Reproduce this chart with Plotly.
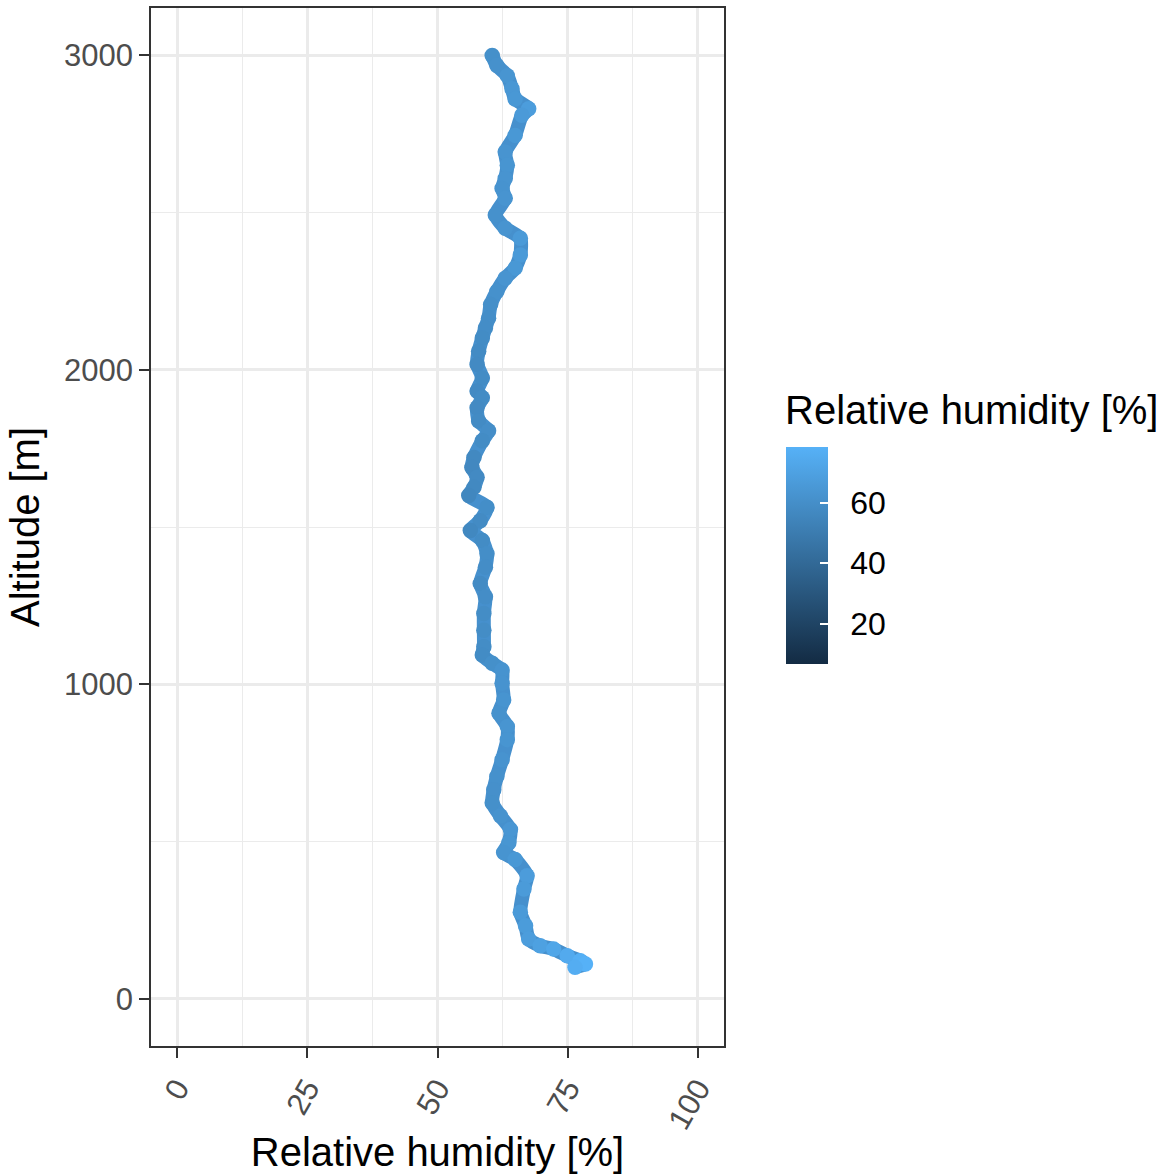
import plotly.graph_objects as go

# Data (top of sounding to bottom)
rh = [60.5, 61.4, 63.4, 64.3, 64.9, 67.5, 66.2, 64.9, 63.0, 63.4, 63.0, 62.4, 63.0, 61.1,
      63.0, 65.9, 65.9, 64.9, 63.0, 61.4, 60.2, 59.8, 59.2, 58.6, 57.9, 57.6, 58.6, 57.6,
      58.6, 57.6, 57.9, 59.8, 58.6, 57.0, 56.6, 57.6, 57.0, 56.0, 59.5, 58.2, 56.3, 58.6,
      59.5, 59.2, 58.2, 59.2, 58.9, 58.9, 58.9, 58.6, 60.5, 62.4, 62.4, 62.7, 61.8, 63.4,
      63.4, 62.4, 61.4, 60.8, 60.5, 62.1, 64.0, 63.7, 62.7, 64.9, 67.2, 66.6, 65.9, 66.9,
      67.5, 69.7, 72.3, 74.9, 77.4, 78.4, 76.4]
altitude = [2999, 2967, 2935, 2893, 2861, 2830, 2809, 2745, 2692, 2650, 2608, 2576, 2545, 2492,
            2450, 2418, 2365, 2323, 2291, 2249, 2207, 2164, 2133, 2101, 2059, 2017, 1974, 1932,
            1911, 1879, 1837, 1806, 1774, 1721, 1689, 1658, 1626, 1600, 1563, 1520, 1489, 1457,
            1415, 1372, 1320, 1278, 1225, 1172, 1119, 1093, 1067, 1045, 1003, 950, 908, 866,
            824, 760, 707, 665, 623, 581, 538, 496, 465, 443, 391, 349, 275, 232,
            190, 169, 158, 137, 121, 111, 100]

x_ticks = [0, 25, 50, 75, 100]
y_ticks = [0, 1000, 2000, 3000]
cbar_ticks = [20, 40, 60]
color_min, color_max = 6.7, 78.4

low_col, high_col = "#132B43", "#56B1F7"
colorscale = [[0, low_col], [1, high_col]]

FONT = "Liberation Sans, Arial, Helvetica, sans-serif"

fig = go.Figure()
# continuous path underneath
fig.add_trace(go.Scatter(x=rh, y=altitude, mode="lines",
                         line=dict(color="#4690CD", width=14, shape="spline", smoothing=0.6),
                         hoverinfo="skip", showlegend=False))
# points coloured by humidity
fig.add_trace(go.Scatter(
    x=rh, y=altitude, mode="markers", showlegend=False,
    marker=dict(size=15.5, color=rh, colorscale=colorscale, cmin=color_min, cmax=color_max,
                line=dict(width=0),
                colorbar=dict(
                    x=1.108, xanchor="left", y=0.4725, yanchor="middle",
                    thickness=42, len=217, lenmode="pixels",
                    tickvals=cbar_ticks,
                    ticktext=["\u00a0\u2009" + str(v) for v in cbar_ticks],
                    ticks="inside", ticklen=8, tickcolor="white", tickwidth=1.5,
                    tickfont=dict(size=32, color="black", family=FONT),
                    outlinewidth=0, xpad=0, ypad=0))))

fig.add_annotation(text="Relative humidity [%]", xref="paper", yref="paper",
                   x=1.1025, y=0.6127, xanchor="left", yanchor="middle", showarrow=False,
                   font=dict(size=40, color="black", family=FONT))

grid = "#EBEBEB"
axis_common = dict(showline=True, linecolor="#333333", linewidth=1.5, mirror=True,
                   showgrid=True, gridcolor=grid, gridwidth=2.5,
                   ticks="outside", ticklen=10, tickwidth=2, tickcolor="#333333",
                   tickfont=dict(size=31, color="#4D4D4D", family=FONT),
                   zeroline=False)

fig.update_xaxes(range=[-5, 105], tickvals=x_ticks, ticktext=[str(v) for v in x_ticks],
                 tickangle=-60,
                 minor=dict(showgrid=True, gridcolor=grid, gridwidth=1.3, tickvals=[12.5, 37.5, 62.5, 87.5]),
                 title=dict(text="Relative humidity [%]", font=dict(size=40, color="black", family=FONT),
                            standoff=12),
                 **axis_common)
fig.update_yaxes(range=[-150, 3150], tickvals=y_ticks, ticktext=[str(v) for v in y_ticks],
                 minor=dict(showgrid=True, gridcolor=grid, gridwidth=1.3, tickvals=[500, 1500, 2500]),
                 title=dict(text="Altitude [m]", font=dict(size=40, color="black", family=FONT),
                            standoff=12),
                 **axis_common)

fig.update_layout(width=1164, height=1174,
                  margin=dict(l=151, r=440, t=8, b=128, autoexpand=False),
                  plot_bgcolor="white", paper_bgcolor="white",
                  font=dict(family=FONT))

fig.write_html("out.html")
